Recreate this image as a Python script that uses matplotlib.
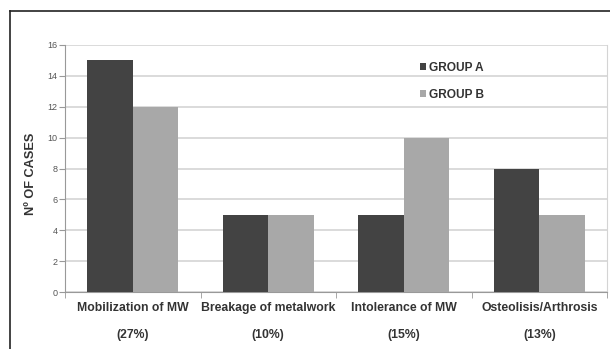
import matplotlib
matplotlib.use("Agg")
import matplotlib.pyplot as plt
from matplotlib.lines import Line2D
import numpy as np

plt.rcParams['font.family'] = ['Liberation Sans', 'DejaVu Sans']

# complications per group
categories = ['Mobilization of MW', 'Breakage of metalwork', 'Intolerance of MW', 'Osteolisis/Arthrosis']
percents = ['(27%)', '(10%)', '(15%)', '(13%)']
group_a = [15, 5, 5, 8]
group_b = [12, 5, 10, 5]

dark = '#434343'
light = '#a8a8a8'
grid_col = '#d4d4d4'

fig = plt.figure(figsize=(6.1, 3.49), dpi=100)
fig.patch.set_facecolor('white')
ax = fig.add_axes([65 / 610, 1 - 292 / 349, 542 / 610, 247 / 349])

x = np.arange(len(categories))
w = 0.335
ax.bar(x - w / 2, group_a, w, color=dark, label='GROUP A', zorder=3)
ax.bar(x + w / 2, group_b, w, color=light, label='GROUP B', zorder=3)

ax.set_xlim(-0.5, len(categories) - 0.5)
ax.set_ylim(0, 16)
ax.set_yticks(range(0, 17, 2))
ax.yaxis.grid(True, color=grid_col, linewidth=1.2, zorder=0)
ax.tick_params(axis='y', labelsize=6.5, labelcolor='#555555', color='#999999', length=4, pad=1.5)

ax.set_xticks(x)
ax.set_xticklabels([c + '\n\n' + p for c, p in zip(categories, percents)],
                   fontsize=8.8, fontweight='bold', color='#333333', linespacing=1.17)
ax.tick_params(axis='x', length=0, pad=7)
# tick marks between categories
ax.set_xticks(np.arange(-0.5, len(categories)), minor=True)
ax.tick_params(axis='x', which='minor', length=4, color='#999999')

ax.spines['top'].set_visible(False)
ax.spines['right'].set_color(grid_col)
ax.spines['left'].set_color('#999999')
ax.spines['bottom'].set_color('#999999')

ax.set_ylabel('Nº OF CASES', fontsize=9.2, fontweight='bold', color='#333333')
ax.yaxis.set_label_coords(-0.052, 0.48)

leg = ax.legend(loc='upper left', bbox_to_anchor=(0.635, 0.975), frameon=False,
                fontsize=8.6, handlelength=0.55, handleheight=0.55, handletextpad=0.2,
                labelspacing=1.25)
for t in leg.get_texts():
    t.set_fontweight('bold')
    t.set_color('#333333')

# outer frame
fig.add_artist(Line2D([10 / 610, 10 / 610], [0, 1 - 11 / 349], color='#222222', linewidth=1.2))
fig.add_artist(Line2D([10 / 610, 1], [1 - 11 / 349, 1 - 11 / 349], color='#222222', linewidth=1.2))

fig.savefig('out.png', dpi=100)
